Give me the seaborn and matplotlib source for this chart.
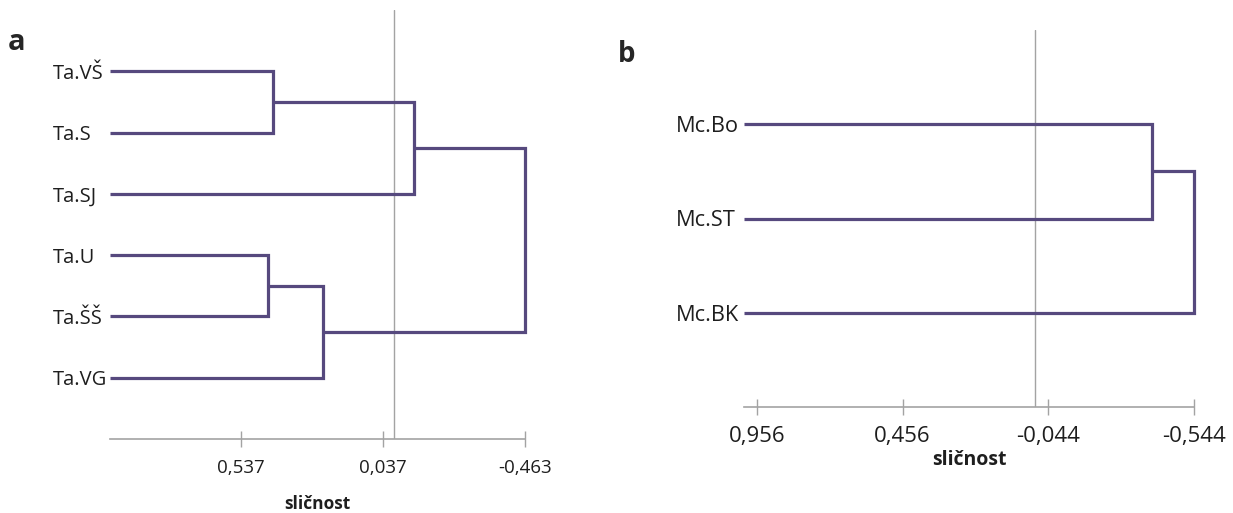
import numpy as np
import pandas as pd
import matplotlib
matplotlib.use("Agg")
import matplotlib.pyplot as plt
import seaborn as sns

# ---- data ----
left_leaves = ["Ta.VŠ", "Ta.S", "Ta.SJ", "Ta.U", "Ta.ŠŠ", "Ta.VG"]
left_merge_a = [0, 6, 3, 8, 7]
left_merge_b = [1, 2, 4, 5, 9]
left_heights = [0.424, -0.070, 0.442, 0.248, -0.463]
left_ticks = [0.537, 0.037, -0.463]

right_leaves = ["Mc.Bo", "Mc.ST", "Mc.BK"]
right_merge_a = [0, 3]
right_merge_b = [1, 2]
right_heights = [-0.400, -0.544]
right_ticks = [0.956, 0.456, -0.044, -0.544]

leaf_similarity = 1.0
reference_line = 0.0

LINE = "#56497e"
GRAY = "#a3a3a3"
TXT = "#1e1e1e"

sns.set_theme(style="white")
plt.rcParams["font.family"] = ["Open Sans", "DejaVu Sans"]


def segments(leaves, ma, mb, heights):
    n = len(leaves)
    pos = {i: (leaf_similarity, i + 1) for i in range(n)}
    segs = []
    for k, (a, b, h) in enumerate(zip(ma, mb, heights)):
        xa, ya = pos[a]
        xb, yb = pos[b]
        segs.append([(xa, ya), (h, ya), (h, yb), (xb, yb)])
        pos[n + k] = (h, (ya + yb) / 2)
    rows = []
    for s, pts in enumerate(segs):
        for o, (x, y) in enumerate(pts):
            rows.append({"seg": s, "order": o, "x": x, "y": y})
    return pd.DataFrame(rows)


def draw(ax, leaves, ma, mb, heights, ticks, xmin_val, fs_tick, fs_leaf, fs_lab,
         labelpad, tickpad, leafpad):
    df = segments(leaves, ma, mb, heights)
    sns.lineplot(data=df, x="x", y="y", units="seg", estimator=None, sort=False,
                 color=LINE, linewidth=2.3, ax=ax)
    for l in ax.lines:
        l.set_clip_on(False)
        l.set_solid_joinstyle("miter")
        l.set_solid_capstyle("butt")
    ax.axvline(reference_line, color=GRAY, linewidth=1.0, zorder=0)
    n = len(leaves)
    ax.set_ylim(n + 1, 0)
    ax.set_xlim(leaf_similarity, xmin_val)
    ax.set_yticks(range(1, n + 1))
    ax.set_yticklabels(leaves, fontsize=fs_leaf, color=TXT, ha="left")
    ax.tick_params(axis="y", length=0, pad=leafpad)
    ax.set_xticks(ticks)
    ax.set_xticklabels([f"{t:.3f}".replace(".", ",") for t in ticks],
                       fontsize=fs_tick, color=TXT)
    ax.tick_params(axis="x", direction="inout", length=11, width=1.0,
                   color=GRAY, pad=tickpad, bottom=True)
    for s in ["top", "right", "left"]:
        ax.spines[s].set_visible(False)
    ax.spines["bottom"].set_color(GRAY)
    ax.spines["bottom"].set_linewidth(1.2)
    ax.set_xlabel("sličnost", fontsize=fs_lab, fontweight="bold", color=TXT,
                  labelpad=labelpad)
    ax.set_ylabel("")
    ax.grid(False)


fig = plt.figure(figsize=(12.33, 5.13), dpi=100)
ax1 = fig.add_axes([110 / 1233, 1 - 439 / 513, 415 / 1233, 429 / 513])
ax2 = fig.add_axes([744 / 1233, 1 - 407 / 513, 450 / 1233, 377 / 513])

draw(ax1, left_leaves, left_merge_a, left_merge_b, left_heights, left_ticks,
     left_ticks[-1], 13.5, 14.5, 12.5, 13, 9, (110 - 53) * 0.72)
draw(ax2, right_leaves, right_merge_a, right_merge_b, right_heights, right_ticks,
     right_ticks[-1], 16, 15.7, 14, 2, 8, (744 - 676) * 0.72)

fig.text(17 / 1233, 1 - 42 / 513, "a", fontsize=21, fontweight="bold", ha="center", va="center")
fig.text(627 / 1233, 1 - 55 / 513, "b", fontsize=20, fontweight="bold", ha="center", va="center")

fig.savefig("out.png", dpi=100, facecolor="white")
